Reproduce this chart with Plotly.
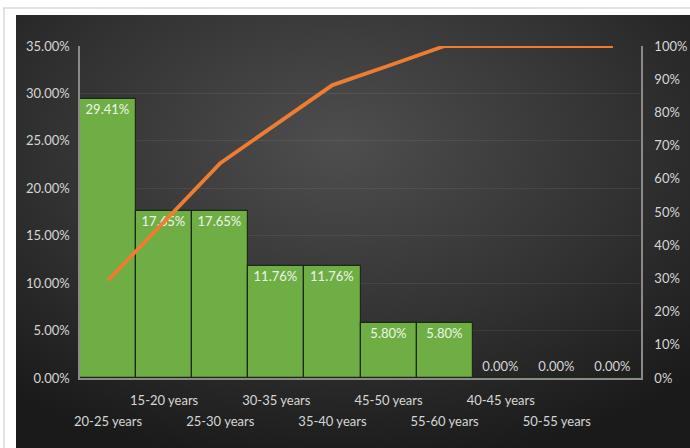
import base64
import plotly.graph_objects as go

categories = ["20-25 years", "15-20 years", "25-30 years", "30-35 years", "35-40 years",
              "45-50 years", "55-60 years", "40-45 years", "50-55 years", ""]
share = [0.2941, 0.1765, 0.1765, 0.1176, 0.1176, 0.0580, 0.0580, 0.0, 0.0, 0.0]
share_labels = ["29.41%", "17.65%", "17.65%", "11.76%", "11.76%", "5.80%", "5.80%",
                "0.00%", "0.00%", "0.00%"]
cumulative = [0.2941, 0.4706, 0.6471, 0.7647, 0.8823, 0.9403, 1.0, 1.0, 1.0, 1.0]

left_ticks = [0, 0.05, 0.10, 0.15, 0.20, 0.25, 0.30, 0.35]
right_ticks = [i / 10 for i in range(11)]

idx = list(range(len(categories)))
# staggered category labels (Excel style): odd on upper row, even on lower row
upper_vals = [i for i in idx if i % 2 == 1]
upper_text = [categories[i] for i in upper_vals]
lower_vals = [i for i in idx if i % 2 == 0]
lower_text = [categories[i] for i in lower_vals]

W, H = 690, 448
L, R, T, B = 80, 49, 46, 70
pw, ph = W - L - R, H - T - B

def px_x(p):
    return (p - L) / pw

def px_y(p):
    return (H - B - p) / ph

svg = f"""<svg xmlns='http://www.w3.org/2000/svg' width='674' height='433' viewBox='0 0 674 433'>
<defs><radialGradient id='g' cx='48%' cy='30%' r='75%'>
<stop offset='0%' stop-color='#4e4e4e'/><stop offset='55%' stop-color='#333333'/>
<stop offset='100%' stop-color='#1a1a1a'/></radialGradient></defs>
<rect width='674' height='433' fill='url(#g)'/></svg>"""
src = "data:image/svg+xml;base64," + base64.b64encode(svg.encode()).decode()

font = "Lato, 'Open Sans', sans-serif"
txtcol = "#d6d6d6"
fs = 13

fig = go.Figure()
fig.add_trace(go.Bar(
    x=idx, y=share,
    text=share_labels, texttemplate="%{text}",
    textposition=["inside"] * 7 + ["outside"] * 3,
    insidetextanchor="end",
    textfont=dict(color="#eef5e8", size=fs, family=font),
    outsidetextfont=dict(color=txtcol, size=fs, family=font),
    marker=dict(color="#6fae45", line=dict(color="#1b2a12", width=1.2)),
    cliponaxis=False, showlegend=False, hoverinfo="skip",
))
fig.add_trace(go.Scatter(
    x=idx, y=cumulative, xaxis="x2", yaxis="y2", mode="lines",
    line=dict(color="#ed7d31", width=3.8), showlegend=False, hoverinfo="skip",
))

xrange = [-0.5, len(categories) - 0.5]
fig.update_layout(
    width=W, height=H,
    margin=dict(l=L, r=R, t=T, b=B),
    paper_bgcolor="white", plot_bgcolor="rgba(0,0,0,0)",
    bargap=0,
    font=dict(family=font, color=txtcol, size=fs),
    xaxis=dict(tickmode="array", tickvals=upper_vals, ticktext=upper_text,
               range=xrange, showgrid=False, zeroline=False, automargin=False,
               showline=True, linecolor="#8a8a8a", linewidth=1.5, ticks="",
               tickangle=0, ticklabelstandoff=10,
               tickfont=dict(size=fs, color=txtcol)),
    xaxis2=dict(tickmode="array", tickvals=lower_vals, ticktext=lower_text,
                range=xrange, overlaying="x", side="bottom", showgrid=False,
                zeroline=False, automargin=False, showline=False, ticks="",
                tickangle=0, ticklabelstandoff=34,
                tickfont=dict(size=fs, color=txtcol)),
    yaxis=dict(range=[0, 0.35], tickvals=left_ticks, tickformat=".2%",
               showgrid=True, gridcolor="rgba(255,255,255,0.07)", gridwidth=1,
               zeroline=False, showline=True, linecolor="#8a8a8a", linewidth=1.5,
               automargin=False,
               ticks="", ticklabelstandoff=6, tickfont=dict(size=fs, color=txtcol)),
    yaxis2=dict(range=[0, 1], tickvals=right_ticks, tickformat=".0%", overlaying="y",
                side="right", showgrid=False, zeroline=False, showline=True,
                automargin=False,
                linecolor="#8a8a8a", linewidth=1.5, ticks="", ticklabelstandoff=9,
                tickfont=dict(size=fs, color=txtcol)),
    images=[dict(source=src, xref="paper", yref="paper",
                 x=px_x(16), y=px_y(15), sizex=px_x(690) - px_x(16), sizey=px_y(15) - px_y(448),
                 xanchor="left", yanchor="top", sizing="stretch", layer="below")],
    shapes=[
        dict(type="line", xref="paper", yref="paper", x0=px_x(3), x1=px_x(690),
             y0=px_y(8), y1=px_y(8), line=dict(color="#d8d8d8", width=1.5)),
        dict(type="line", xref="paper", yref="paper", x0=px_x(4), x1=px_x(4),
             y0=px_y(8), y1=px_y(448), line=dict(color="#d8d8d8", width=1.5)),
    ],
)

fig.write_html("out.html")
